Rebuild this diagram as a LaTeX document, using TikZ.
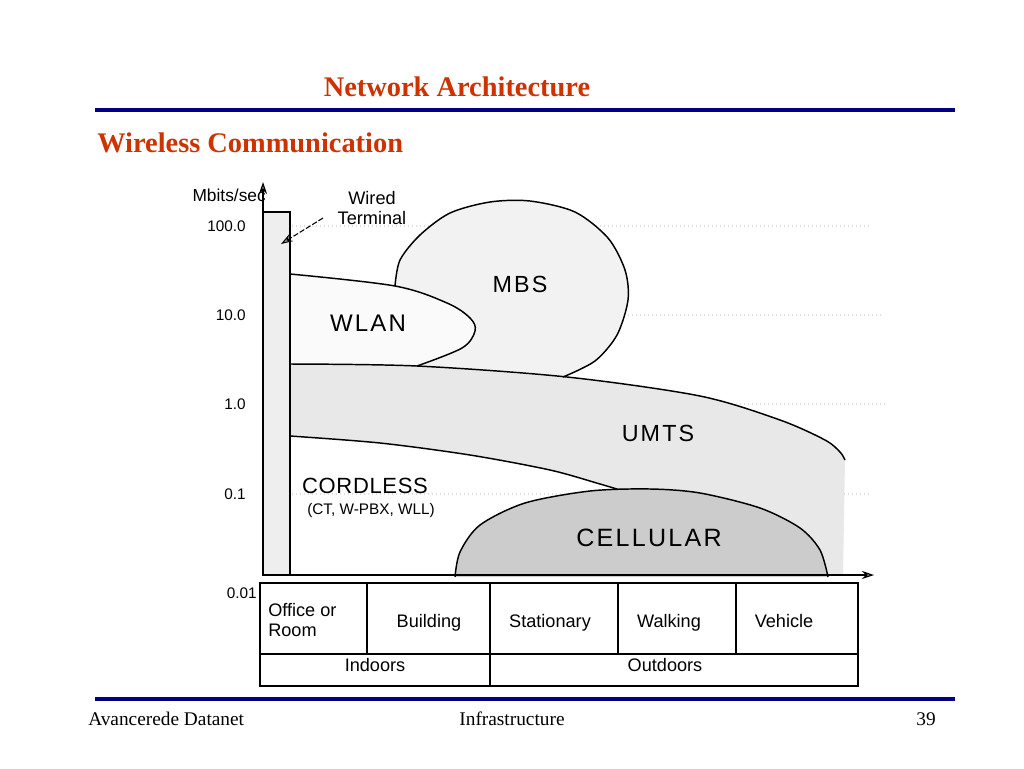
\documentclass[tikz,border=0pt]{standalone}
\usepackage{fontspec}
\setmainfont{Liberation Serif}
\newfontfamily\arialf{Liberation Sans}
\newfontfamily\arialsp{Liberation Sans}[LetterSpace=9]
\usetikzlibrary{arrows.meta}
\definecolor{titlered}{HTML}{CC3300}
\definecolor{navy}{HTML}{000080}
\definecolor{gridgray}{HTML}{DDDDDD}
\tikzset{
  titletxt/.style={font=\fontsize{21.3}{24}\selectfont\bfseries, text=titlered, inner sep=0pt},
  foottxt/.style={font=\fontsize{14.5}{17}\selectfont, inner sep=0pt},
  bigtxt/.style={font=\arialsp\fontsize{17.5}{20}\selectfont, inner sep=0pt},
  smalltxt/.style={font=\arialf\fontsize{13.6}{15}\selectfont, inner sep=0pt},
  celltxt/.style={smalltxt, anchor=base},
  ticktxt/.style={font=\arialf\fontsize{11.5}{13}\selectfont, inner sep=0pt, anchor=east},
  rule/.style={draw=navy, line width=2.4pt},
  gridline/.style={draw=gridgray, dotted, line width=1pt},
  outline/.style={draw=black, line width=1.1pt},
  axisarrow/.style={draw=black, line width=0.9pt, -{Stealth[length=9pt,width=6pt,fill=gray!60]}},
}
\begin{document}
\begin{tikzpicture}[x=0.75pt,y=-0.75pt]
\useasboundingbox (0,0) rectangle (1024,768);
% titles and rules
\node[titletxt] (title) at (457,87) {Network Architecture};
\draw[rule] (95,110) coordinate (r1a) -- (955,110) coordinate (r1b);
\node[titletxt, anchor=west] (subtitle) at (97,143) {Wireless Communication};
\draw[rule] (95,699) coordinate (r2a) -- (955,699) coordinate (r2b);
\node[foottxt, anchor=west] (f1) at (88,719) {Avancerede Datanet};
\node[foottxt] (f2) at (512,719) {Infrastructure};
\node[foottxt, anchor=east] (f3) at (936,719) {39};
% grid lines
\draw[gridline] (292,226) -- (870,226);
\draw[gridline] (292,315) -- (883,315);
\draw[gridline] (292,404) -- (885,404);
\draw[gridline] (292,494) -- (870,494);
% UMTS fill
\fill[gray!18] plot[smooth] coordinates {(290,364) (417,366) (567,377) (700,396) (780,420) (825,440) (840,452) (845,460)}
  -- (843,575) -- (620,575) -- (620,490)
  -- plot[smooth] coordinates {(620,490) (600,484) (550,470) (470,455) (380,443) (290,436)} -- cycle;
% MBS
\fill[gray!10] plot[smooth] coordinates {(395,286) (400,260) (420,235) (450,213) (490,202) (530,201) (575,212) (608,238) (625,270) (628,300) (617,335) (595,361) (563,377)} -- (417,366) -- (395,286);
\draw[outline] plot[smooth] coordinates {(395,286) (400,260) (420,235) (450,213) (490,202) (530,201) (575,212) (608,238) (625,270) (628,300) (617,335) (595,361) (563,377)};
% WLAN
\fill[gray!4] plot[smooth, tension=0.55] coordinates {(290,274) (395,286) (447,303) (470,318) (475,331) (462,348) (417,366)} -- (290,364) -- cycle;
\draw[outline] plot[smooth, tension=0.55] coordinates {(290,274) (395,286) (447,303) (470,318) (475,331) (462,348) (417,366)};
% UMTS top and cordless top
\draw[outline] plot[smooth] coordinates {(290,364) (417,366) (567,377) (700,396) (780,420) (825,440) (840,452) (845,460)};
\draw[outline] plot[smooth] coordinates {(290,436) (380,443) (470,455) (550,470) (600,484) (620,490)};
% Cellular
\fill[gray!40] plot[smooth] coordinates {(455,577) (460,552) (480,525) (525,503) (590,491) (650,489) (700,493) (760,508) (800,528) (820,550) (828,577)} -- cycle;
\draw[outline] plot[smooth] coordinates {(455,577) (460,552) (480,525) (525,503) (590,491) (650,489) (700,493) (760,508) (800,528) (820,550) (828,577)};
% wired terminal bar
\fill[gray!13] (263,575) rectangle (290,212);
\draw[outline] (263,575) rectangle (290,212);
% axes
\coordinate (origin) at (263,575);
\coordinate (ytop) at (263,182);
\coordinate (xend) at (874,575);
\draw[axisarrow] (origin) -- (ytop);
\draw[axisarrow] (origin) -- (xend);
% labels
\node[smalltxt, font=\arialf\fontsize{13}{15}\selectfont, anchor=east] (ylab) at (266,195) {Mbits/sec};
\node[ticktxt] (t1) at (246,226) {100.0};
\node[ticktxt] (t2) at (246,315) {10.0};
\node[ticktxt] (t3) at (246,404) {1.0};
\node[ticktxt] (t4) at (246,494) {0.1};
\node[ticktxt] (t5) at (257,593) {0.01};
\node[smalltxt, align=center] (wired) at (372,208) {Wired\\Terminal};
\coordinate (wtstart) at (323,218);
\coordinate (wtend) at (281,244);
\draw[draw=black, line width=0.8pt, dash pattern=on 4pt off 1.5pt, -{Stealth[length=9pt,width=6pt,fill=gray!60]}] (wtstart) -- (wtend);
\node[bigtxt] (mbs) at (520,284) {MBS};
\node[bigtxt, font=\arialsp\fontsize{18}{20}\selectfont] (wlan) at (368,323) {WLAN};
\node[bigtxt] (umts) at (658,433) {UMTS};
\node[bigtxt, font=\arialf\fontsize{16.5}{20}\selectfont\addfontfeature{LetterSpace=3}] (cordless) at (365,486) {CORDLESS};
\node[smalltxt, font=\arialf\fontsize{11.5}{13}\selectfont] (cordsub) at (371,511) {(CT, W-PBX, WLL)};
\node[bigtxt, font=\arialsp\fontsize{18.8}{21}\selectfont] (cell) at (649,538) {CELLULAR};
% table
\draw[outline] (260,583) rectangle (858,686);
\draw[outline] (260,654) -- (858,654);
\draw[outline] (367,583) -- (367,654);
\draw[outline] (490,583) -- (490,686);
\draw[outline] (618,583) -- (618,654);
\draw[outline] (736,583) -- (736,654);
\node[smalltxt, align=left, anchor=west] (c1) at (268,620) {Office or\\Room};
\node[celltxt] (c2) at (429,627) {Building};
\node[celltxt] (c3) at (550,627) {Stationary};
\node[celltxt] (c4) at (669,627) {Walking};
\node[celltxt] (c5) at (784,627) {Vehicle};
\node[celltxt] (c6) at (375,671) {Indoors};
\node[celltxt] (c7) at (665,671) {Outdoors};
\end{tikzpicture}
\end{document}
